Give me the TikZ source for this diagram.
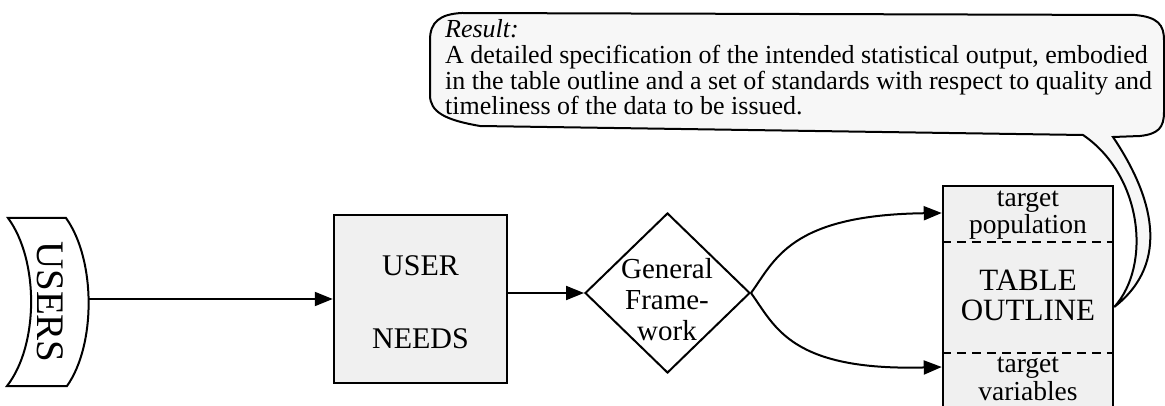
\documentclass[tikz,border=0pt]{standalone}
\usepackage{fontspec}
\setmainfont{Liberation Serif}
\usetikzlibrary{arrows.meta,shapes.geometric,calc}
\begin{document}
\begin{tikzpicture}[x=1pt,y=-1pt,
  ln/.style={line width=2pt},
  arr/.style={line width=2pt,-{Triangle[length=18pt,width=14pt]}},
  boxfill/.style={fill=black!6},
  bigbox/.style={draw,line width=2.5pt,boxfill,inner sep=0pt},
  txt/.style={align=center,inner sep=0pt,anchor=base},
  tsmall/.style={txt,font=\fontsize{27.5}{28}\selectfont},
  divider/.style={line width=2pt,dash pattern=on 9pt off 6pt}]
\useasboundingbox (0,0) rectangle (1165,406);
\clip (0,0) rectangle (1165,406);

% USERS shape
\draw[ln,fill=white] (8,218) -- (66,218) .. controls (96,260) and (96,345) .. (67,386)
  -- (7,386) .. controls (39,345) and (39,260) .. cycle;
\node[rotate=-90,inner sep=0pt,font=\fontsize{39}{39}\selectfont] (users) at (50,302) {USERS};
\coordinate (uR) at (88,299);

% USER NEEDS
\node[bigbox,minimum width=173pt,minimum height=168pt] (un) at (420.5,299) {};
\node[txt,font=\fontsize{30}{73}\selectfont] (unt) at (420.5,348) {USER\\NEEDS};
\draw[arr] (uR) -- (un.west);

% General Framework
\node[draw,diamond,ln,minimum width=165pt,minimum height=160pt,inner sep=0pt,fill=white] (fw) at (667.5,293) {};
\node[txt,font=\fontsize{29}{31}\selectfont] (fwt) at (667,340) {General\\Frame-\\work};
\draw[arr] (un.east |- fw.west) -- (fw.west);

% Table outline
\node[bigbox,minimum width=170pt,minimum height=230pt,anchor=north] (tbl) at (1028,185) {};
\draw[divider] (tbl.west |- 0,242) -- (tbl.east |- 0,242);
\draw[divider] (tbl.west |- 0,353) -- (tbl.east |- 0,353);
\node[tsmall] (tp) at (1028,234) {target\\population};
\node[txt,font=\fontsize{31}{30}\selectfont] (to) at (1028,320) {TABLE\\OUTLINE};
\node[tsmall] (tv) at (1028,400) {target\\variables};

\draw[arr] (fw.east) .. controls (775,260) and (790,215) .. (tbl.west |- 0,213);
\draw[arr] (fw.east) .. controls (775,326) and (790,371) .. (tbl.west |- 0,367);

% Result callout
\coordinate (tip) at (tbl.east |- 0,307);
\draw[ln,fill=black!3] (430,40) .. controls (430,22) and (440,14) .. (462,13)
  -- (1135,15) .. controls (1158,17) and (1164,25) .. (1164,40)
  -- (1164,112) .. controls (1164,128) and (1158,134) .. (1140,136)
  -- (1113,137) .. controls (1152,195) and (1172,262) .. (tip)
  .. controls (1152,265) and (1142,175) .. (1083,135)
  -- (480,126) .. controls (445,120) and (430,112) .. (430,95) -- cycle;
\node[anchor=base west,align=left,inner sep=0pt,font=\fontsize{26}{25.7}\selectfont] (res) at (445,115)
  {\textit{Result:}\\
   A detailed specification of the intended statistical output, embodied\\
   in the table outline and a set of standards with respect to quality and\\
   timeliness of the data to be issued.};
\end{tikzpicture}
\end{document}
